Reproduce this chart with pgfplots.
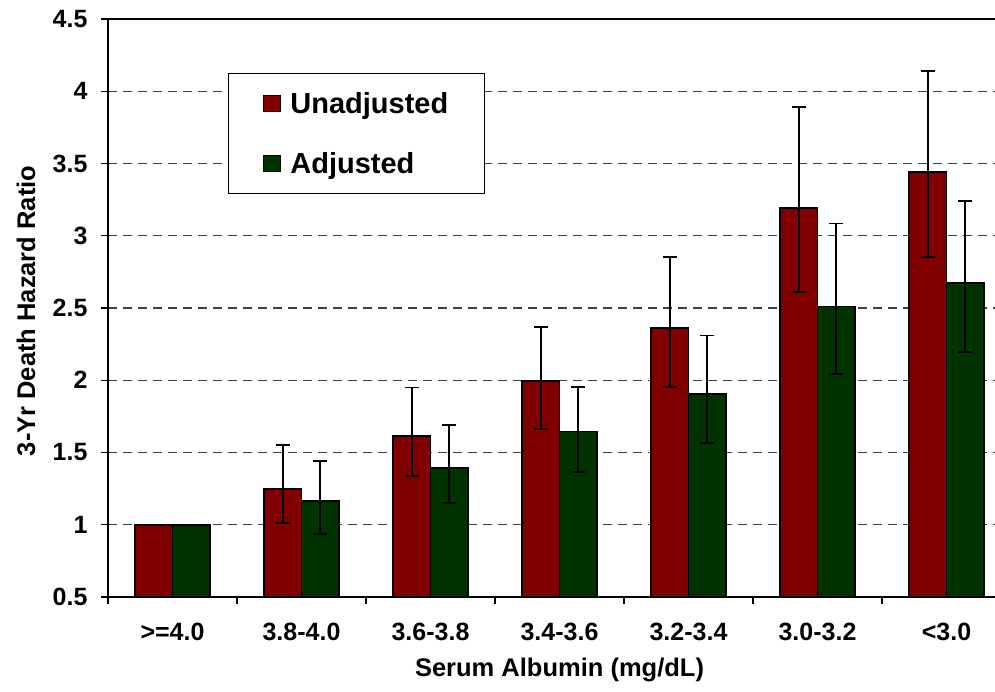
\documentclass[border=0pt]{standalone}
\usepackage{fontspec}
\setmainfont{Liberation Sans}
\usepackage{pgfplots}
\pgfplotsset{compat=1.18}
\definecolor{ured}{RGB}{128,0,0}
\definecolor{agreen}{RGB}{0,51,0}
\pgfplotstableread{
x y ep em
0 1.000 0.000 0.000
1 1.250 0.300 0.240
2 1.615 0.335 0.280
3 1.995 0.375 0.330
4 2.360 0.490 0.405
5 3.190 0.700 0.580
6 3.440 0.700 0.590
}\unadj
\pgfplotstableread{
x y ep em
0 1.000 0.000 0.000
1 1.165 0.275 0.230
2 1.390 0.300 0.240
3 1.645 0.310 0.280
4 1.905 0.405 0.340
5 2.510 0.575 0.465
6 2.675 0.565 0.480
}\adj
\begin{document}
\begin{tikzpicture}
\begin{axis}[
  at={(0,0)}, anchor=south west,
  scale only axis, width=900pt, height=578pt,
  xmin=-0.5, xmax=6.4767, ymin=0.5, ymax=4.5,
  ybar=0pt, bar width=37.5pt,
  axis line style={line width=1.7pt, black},
  tick align=outside,
  xtick pos=bottom, ytick pos=left,
  major tick length=7pt, minor tick length=7pt,
  tick style={line width=1.2pt, black},
  major x tick style={draw=none},
  xtick={0,1,2,3,4,5,6},
  xticklabels={{>=4.0},{3.8-4.0},{3.6-3.8},{3.4-3.6},{3.2-3.4},{3.0-3.2},{<3.0}},
  minor xtick={-0.5,0.5,1.5,2.5,3.5,4.5,5.5},
  ytick={0.5,1,1.5,2,2.5,3,3.5,4,4.5},
  ymajorgrids,
  major grid style={black!75, dash pattern=on 9pt off 6pt, line width=1.2pt},
  /pgf/number format/assume math mode=true,
  xticklabel style={font=\bfseries\fontsize{25}{30}\selectfont, yshift=-16pt},
  yticklabel style={font=\bfseries\fontsize{25}{30}\selectfont, xshift=-10pt},
  xlabel={Serum Albumin (mg/dL)},
  ylabel={3-Yr Death Hazard Ratio},
  every axis x label/.style={at={(rel axis cs:0.5017,0)}, anchor=center, yshift=-73pt,
    font=\bfseries\fontsize{25.5}{30}\selectfont},
  every axis y label/.style={at={(rel axis cs:0,0.495)}, anchor=center, rotate=90, yshift=82pt,
    font=\bfseries\fontsize{25.5}{30}\selectfont},
  legend cell align=left,
  legend image code/.code={\draw[#1,line width=1.2pt] (0pt,-8pt) rectangle (17pt,8pt);
     \path (0pt,0pt) (24pt,0pt);},
  legend style={at={(rel axis cs:0.1333,0.9066)}, anchor=north west,
    draw=black, line width=1.2pt,
    font=\bfseries\fontsize{29}{34}\selectfont,
    inner xsep=34pt, inner ysep=17pt, row sep=33pt},
]
\addplot[fill=ured, draw=black, line width=1.8pt,
  error bars/.cd, y dir=both, y explicit,
  error bar style={line width=1.9pt, black},
  error mark options={rotate=90, mark size=7pt, line width=1.9pt, black}]
  table[x=x, y=y, y error plus=ep, y error minus=em]{\unadj};
\addplot[fill=agreen, draw=black, line width=1.8pt,
  error bars/.cd, y dir=both, y explicit,
  error bar style={line width=1.9pt, black},
  error mark options={rotate=90, mark size=7pt, line width=1.9pt, black}]
  table[x=x, y=y, y error plus=ep, y error minus=em]{\adj};
\legend{Unadjusted, Adjusted}
\end{axis}
\pgfresetboundingbox
\path (-108pt,-94pt) rectangle (887pt,597pt);
\end{tikzpicture}
\end{document}
